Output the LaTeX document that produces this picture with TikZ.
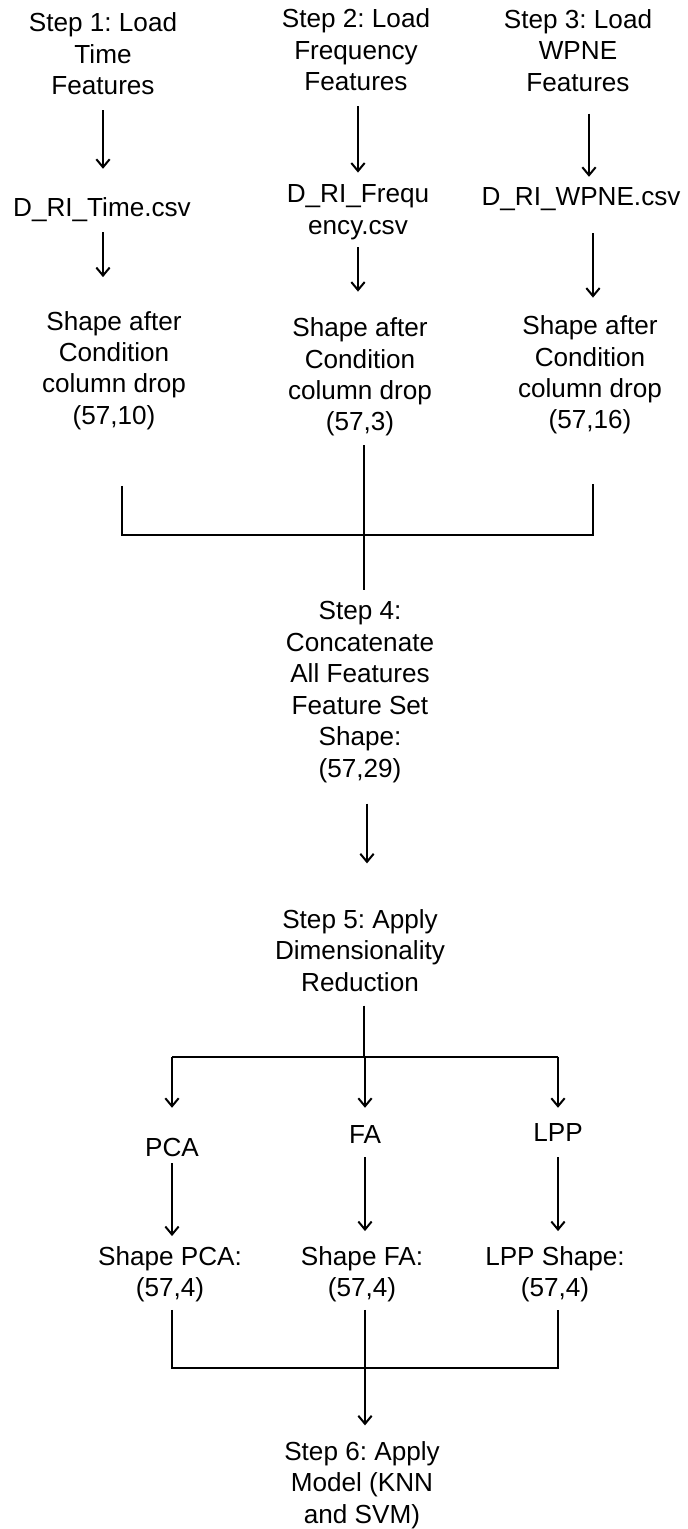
\documentclass[tikz,border=0pt]{standalone}
\usepackage{fontspec}
\setmainfont{Liberation Sans}
\usetikzlibrary{calc,arrows.meta}
\frenchspacing
\newcommand\dfs{\fontsize{19.6pt}{23.6pt}\selectfont\frenchspacing}
\begin{document}
\begin{tikzpicture}[x=0.75pt,y=-0.75pt,
  txt/.style={font=\dfs, align=center, inner sep=0pt, outer sep=0pt,
    execute at begin node=\strut, execute at end node=\strut},
  ln/.style={line width=1.5pt, black},
  arr/.style={ln, -{Straight Barb[length=6pt,width=10pt]}}]
\useasboundingbox (0,0) rectangle (687,1529);
% nodes
\node[txt] (s1) at (103,58.5) {Step 1: Load\\Time\\Features};
\node[txt] (c1) at (102,210.5) {D\_RI\_Time.csv};
\node[txt] (sh1) at (114,372.5) {Shape after\\Condition\\column drop\\(57,10)};
\node[txt] (s2) at (356,54.5) {Step 2: Load\\Frequency\\Features};
\node[txt] (c2) at (358,214) {D\_RI\_Frequ\\ency.csv};
\node[txt] (sh2) at (360,379) {Shape after\\Condition\\column drop\\(57,3)};
\node[txt] (s3) at (578,55) {Step 3: Load\\WPNE\\Features};
\node[txt] (c3) at (581,199.5) {D\_RI\_WPNE.csv};
\node[txt] (sh3) at (590,377) {Shape after\\Condition\\column drop\\(57,16)};
\node[txt] (s4) at (360,694) {Step 4:\\Concatenate\\All Features\\Feature Set\\Shape:\\(57,29)};
\node[txt] (s5) at (360,955) {Step 5: Apply\\Dimensionality\\Reduction};
\node[txt] (pca) at (172,1150.5) {PCA};
\node[txt] (fa) at (365,1137.5) {FA};
\node[txt] (lpp) at (558,1135.5) {LPP};
\node[txt] (shp) at (170,1276) {Shape PCA:\\(57,4)};
\node[txt] (shf) at (362,1276) {Shape FA:\\(57,4)};
\node[txt] (shl) at (555,1276) {LPP Shape:\\(57,4)};
\node[txt] (s6) at (362,1487) {Step 6: Apply\\Model (KNN\\and SVM)};
% column arrows
\draw[arr] ($(s1.south)+(0,6)$) -- ($(s1.south |- c1.north)+(0,-26)$);
\draw[arr] ($(c1.south)+(1,6)$) -- ($(c1.south |- sh1.north)+(1,-34)$);
\draw[arr] ($(s2.south)+(2,6)$) -- ($(s2.south |- c2.north)+(2,-12)$);
\draw[arr] ($(c2.south)+(0,4)$) -- ($(c2.south |- sh2.north)+(0,-26)$);
\draw[arr] ($(s3.south)+(11,13)$) -- ($(s3.south |- c3.north)+(11,-7)$);
\draw[arr] ($(c3.south)+(12,18)$) -- ($(c3.south |- sh3.north)+(12,-18)$);
% merge 1
\draw[ln] ($(sh2.south)+(4,5)$) -- ($(s4.north)+(4,-12)$);
\draw[ln] ($(sh1.south)+(8,52)$) |- ($(sh3.south)+(3,97)$) -- ($(sh3.south)+(3,46)$);
% step 4 -> step 5
\draw[arr] ($(s4.south)+(7,17)$) -- ($(s4.south |- s5.north)+(7,-46)$);
% branch
\coordinate (b1) at ($(s5.south)+(4,56)$);
\draw[ln] ($(s5.south)+(4,5)$) -- (b1);
\draw[ln] (b1 -| pca.north) -- (b1 -| lpp.north);
\draw[arr] (b1 -| pca.north) -- ($(pca.north)+(0,-27)$);
\draw[arr] (b1 -| fa.north) -- ($(fa.north)+(0,-14)$);
\draw[arr] (b1 -| lpp.north) -- ($(lpp.north)+(0,-12)$);
% method arrows
\draw[arr] ($(pca.south)+(0,-3)$) -- ($(pca.south |- shp.north)+(0,-10)$);
\draw[arr] ($(fa.south)+(0,4)$) -- ($(fa.south |- shf.north)+(0,-15)$);
\draw[arr] ($(lpp.south)+(0,6)$) -- ($(lpp.south |- shl.north)+(0,-15)$);
% merge 2
\draw[ln] ($(shp.south)+(2,4)$) |- ($(shl.south)+(3,62)$) -- ($(shl.south)+(3,4)$);
\draw[arr] ($(shf.south)+(3,4)$) -- ($(s6.north)+(3,-16)$);
\end{tikzpicture}
\end{document}
